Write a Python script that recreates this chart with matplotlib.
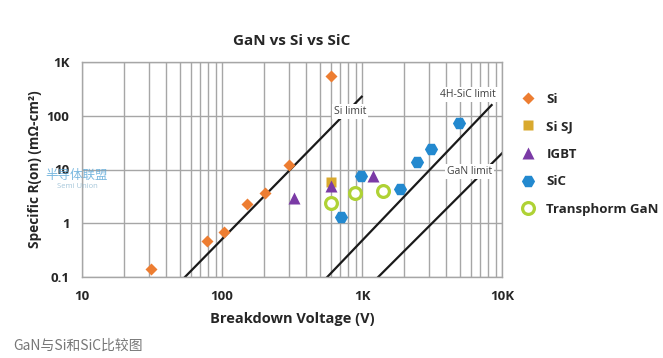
import matplotlib
matplotlib.use("Agg")
import matplotlib.pyplot as plt
from matplotlib.ticker import LogLocator, NullLocator, FixedLocator, NullFormatter
from matplotlib.lines import Line2D

# breakdown voltage (V) and specific on-resistance (mOhm-cm2)
si_v = [31, 78, 103, 150, 203, 302, 600]
si_r = [0.14, 0.46, 0.70, 2.3, 3.7, 12, 550]
sisj_v = [600]
sisj_r = [5.8]
igbt_v = [328, 600, 1200]
igbt_r = [3.0, 5.0, 7.7]
sic_v = [710, 980, 1860, 2480, 3100, 4900]
sic_r = [1.3, 7.7, 4.3, 13.6, 24, 72]
gan_v = [600, 890, 1410]
gan_r = [2.35, 3.6, 3.9]

# theoretical limit lines (end points)
si_lim_v = [54.4, 995]
si_lim_r = [0.1, 226]
sic_lim_v = [565, 8430]
sic_lim_r = [0.1, 158]
gan_lim_v = [1306, 10000]
gan_lim_r = [0.1, 20]

x_ticks = [10, 100, 1000, 10000]
x_labels = ["10", "100", "1K", "10K"]
y_ticks = [0.1, 1, 10, 100, 1000]
y_labels = ["0.1", "1", "10", "100", "1K"]

plt.rcParams["font.family"] = ["Open Sans", "Noto Sans CJK SC", "DejaVu Sans"]

c_si = "#ED7D31"
c_sj = "#D9A92E"
c_igbt = "#7B3AA6"
c_sic = "#2389CF"
c_gan = "#AFD235"
grid_c = "#A6A6A6"

fig = plt.figure(figsize=(6.63, 3.58), dpi=100)
ax = fig.add_axes([82 / 663, 1 - 277 / 358, 420 / 663, 215 / 358])
ax.set_xscale("log")
ax.set_yscale("log")
ax.set_xlim(10, 10000)
ax.set_ylim(0.1, 1000)

ax.xaxis.set_major_locator(FixedLocator(x_ticks))
ax.xaxis.set_minor_locator(LogLocator(base=10, subs=range(2, 10)))
ax.xaxis.set_minor_formatter(NullFormatter())
ax.set_xticklabels(x_labels)
ax.yaxis.set_major_locator(FixedLocator(y_ticks))
ax.yaxis.set_minor_locator(NullLocator())
ax.set_yticklabels(y_labels)
ax.tick_params(which="both", length=0, labelsize=9.5, colors="#262626")
ax.tick_params(axis="x", pad=9)
ax.tick_params(axis="y", pad=9)
for lbl in ax.get_xticklabels() + ax.get_yticklabels():
    lbl.set_fontweight("bold")

ax.grid(True, which="major", color=grid_c, lw=1)
ax.grid(True, which="minor", axis="x", color=grid_c, lw=1)
for s in ax.spines.values():
    s.set_color(grid_c)
    s.set_linewidth(1)
ax.set_axisbelow(True)

ax.plot(si_lim_v, si_lim_r, color="#1a1a1a", lw=1.6, zorder=2)
ax.plot(sic_lim_v, sic_lim_r, color="#1a1a1a", lw=1.6, zorder=2)
ax.plot(gan_lim_v, gan_lim_r, color="#1a1a1a", lw=1.6, zorder=2)

box = dict(facecolor="white", edgecolor="none", pad=1.5)
ax.text(820, 119, "Si limit", fontsize=7.5, color="#404040", ha="center", va="center", bbox=box, zorder=3)
ax.text(5690, 251, "4H-SiC limit", fontsize=7.5, color="#404040", ha="center", va="center", bbox=box, zorder=3)
ax.text(5830, 9.1, "GaN limit", fontsize=7.5, color="#404040", ha="center", va="center", bbox=box, zorder=3)

ax.plot(si_v, si_r, "D", color=c_si, ms=6.5, mec="none", zorder=4)
ax.plot(sisj_v, sisj_r, "s", color=c_sj, ms=7.5, mec="none", zorder=4)
ax.plot(igbt_v, igbt_r, "^", color=c_igbt, ms=8, mec="none", zorder=5)
ax.plot(sic_v, sic_r, "H", color=c_sic, ms=9.5, mec="none", zorder=4)
ax.plot(gan_v, gan_r, "o", mfc="white", mec=c_gan, mew=2.3, ms=8.5, zorder=4)

ax.set_xlabel("Breakdown Voltage (V)", fontsize=10.5, fontweight="bold", color="#262626", labelpad=7)
ax.set_ylabel("Specific R(on) (mΩ-cm²)", fontsize=9.8, fontweight="bold", color="#262626", labelpad=3)
ax.set_title("GaN vs Si vs SiC", fontsize=11, fontweight="bold", color="#262626", pad=12)

handles = [
    Line2D([], [], ls="none", marker="D", color=c_si, ms=6.5, mec="none"),
    Line2D([], [], ls="none", marker="s", color=c_sj, ms=7.5, mec="none"),
    Line2D([], [], ls="none", marker="^", color=c_igbt, ms=8, mec="none"),
    Line2D([], [], ls="none", marker="H", color=c_sic, ms=9.5, mec="none"),
    Line2D([], [], ls="none", marker="o", mfc="white", mec=c_gan, mew=2.3, ms=8.5),
]
names = ["Si", "Si SJ", "IGBT", "SiC", "Transphorm GaN"]
leg = fig.legend(handles, names, loc="upper left", bbox_to_anchor=(512 / 663, 1 - 86 / 358),
                 frameon=False, fontsize=9.5, labelspacing=1.1, handletextpad=0.6,
                 borderpad=0, handlelength=1.5)
for t in leg.get_texts():
    t.set_fontweight("bold")
    t.set_color("#262626")

# watermark
fig.text(45 / 663, 1 - 175 / 358, "半导体联盟", fontsize=9, color="#5BA8D8", alpha=0.8,
         va="center", family=["Noto Sans CJK SC", "DejaVu Sans"])
fig.text(57 / 663, 1 - 187 / 358, "Semi Union", fontsize=5.5, color="#8FB8D0", alpha=0.8, va="center")

fig.text(13 / 663, 1 - 346 / 358, "GaN与Si和SiC比较图", fontsize=10, color="#777777", va="center",
         family=["Noto Sans CJK SC", "DejaVu Sans"])

fig.savefig("out.png", dpi=100)
